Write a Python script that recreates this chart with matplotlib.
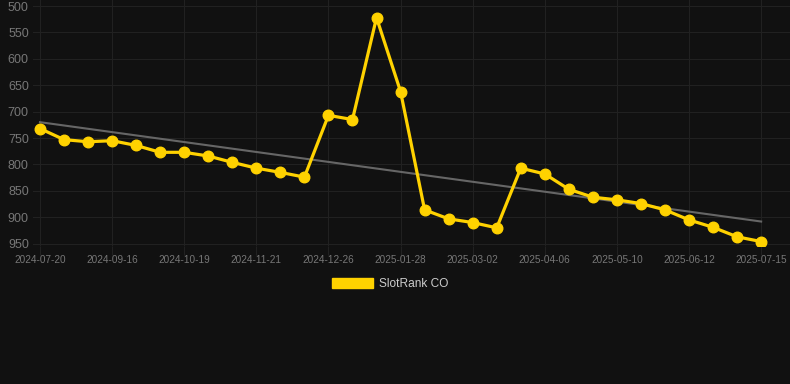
import matplotlib
matplotlib.use("Agg")
import matplotlib.pyplot as plt
from matplotlib.patches import Patch
import numpy as np

plt.rcParams['font.family'] = ['Liberation Sans', 'DejaVu Sans']

# Data
tick_labels = ["2024-07-20", "2024-09-16", "2024-10-19", "2024-11-21", "2024-12-26",
               "2025-01-28", "2025-03-02", "2025-04-06", "2025-05-10", "2025-06-12",
               "2025-07-15"]
rank = [732, 753, 757, 755, 764, 777, 777, 784, 796, 807, 815, 824,
        707, 715, 522, 662, 886, 903, 910, 920, 807, 818, 847, 862,
        867, 874, 886, 905, 919, 937, 946]
y_ticks = [500, 550, 600, 650, 700, 750, 800, 850, 900, 950]
series_name = "SlotRank CO"

BG = "#111111"
GOLD = "#FFD200"
GRID = "#212121"

fig = plt.figure(figsize=(7.9, 3.84), dpi=100, facecolor=BG)
ax = fig.add_axes([33/790, 1 - 246/384, (790-33)/790, 246/384])
ax.set_facecolor(BG)

x = np.arange(len(rank))
# trend line (linear regression of the series)
coef = np.polyfit(x, rank, 1)
ax.plot([x[0], x[-1]], np.polyval(coef, [x[0], x[-1]]), color="#666666", lw=1.5, zorder=2)

ax.plot(x, rank, color=GOLD, lw=2.3, marker="o", markersize=7.6,
        markerfacecolor=GOLD, markeredgecolor=GOLD, zorder=3, label=series_name)

ax.set_xlim(-0.29, 31.2)
ax.set_ylim(954.4, 488.6)
ax.set_yticks(y_ticks)
ax.set_yticklabels([str(v) for v in y_ticks])
ax.set_xticks(x[::3])
ax.set_xticklabels(tick_labels)

ax.grid(True, color=GRID, lw=0.8, zorder=0)
for s in ax.spines.values():
    s.set_visible(False)
ax.tick_params(axis='y', length=0, pad=3, labelsize=9, labelcolor="#777777")
ax.tick_params(axis='x', length=6.5, width=0.8, color=GRID, pad=0,
               labelsize=7.2, labelcolor="#777777")

fig.legend(handles=[Patch(facecolor=GOLD, edgecolor=GOLD, label=series_name)],
           loc="center", bbox_to_anchor=(390/790, 1 - 284/384), frameon=False,
           fontsize=8.6, handlelength=3.4, handleheight=1.0, handletextpad=0.5,
           labelcolor="#cccccc")

fig.savefig("out.png", dpi=100, facecolor=BG)
